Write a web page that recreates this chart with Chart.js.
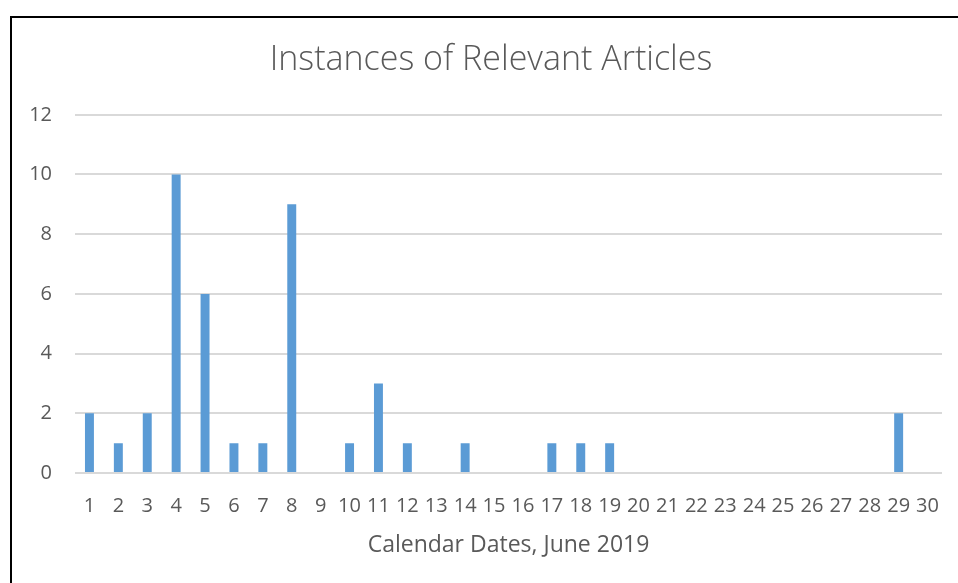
<!DOCTYPE html>
<html>
<head>
<meta charset="utf-8">
<script src="https://cdn.jsdelivr.net/npm/chart.js@4.4.1/dist/chart.umd.min.js"></script>
<style>
  html, body { margin: 0; padding: 0; background: #ffffff; overflow: hidden; }
  #wrap { position: relative; width: 958px; height: 583px; overflow: hidden; }
  #frame { position: absolute; left: 10px; top: 16px; width: 1000px; height: 700px;
           border-left: 2px solid #000; border-top: 2px solid #000; box-sizing: border-box; }
  canvas { position: absolute; left: 0; top: 0; }
</style>
</head>
<body>
<div id="wrap">
  <div id="frame"></div>
  <canvas id="c" width="970" height="583"></canvas>
</div>
<script>
const chartTitle = "Instances of Relevant Articles";
const xAxisTitle = "Calendar Dates, June 2019";
const dates = ["1","2","3","4","5","6","7","8","9","10","11","12","13","14","15","16","17","18","19","20","21","22","23","24","25","26","27","28","29","30"];
const articleCounts = [2,1,2,10,6,1,1,9,0,1,3,1,0,1,0,0,1,1,1,0,0,0,0,0,0,0,0,0,2,0];
const yTicks = [0,2,4,6,8,10,12];

const textColor = "#595959";
const fontFamily = "'Open Sans', 'Liberation Sans', sans-serif";

new Chart(document.getElementById("c"), {
  type: "bar",
  data: {
    labels: dates,
    datasets: [{
      data: articleCounts,
      backgroundColor: "#5B9BD5",
      borderWidth: 0,
      categoryPercentage: 1.0,
      barPercentage: 0.31
    }]
  },
  options: {
    responsive: false,
    animation: false,
    layout: { padding: { left: 12, right: 0, top: 0, bottom: 0 } },
    plugins: {
      legend: { display: false },
      tooltip: { enabled: false },
      title: {
        display: true,
        text: chartTitle,
        color: textColor,
        font: { family: fontFamily, size: 34, weight: 300 },
        padding: { top: 40, bottom: 34 }
      }
    },
    scales: {
      x: {
        grid: { display: false, drawTicks: false },
        border: { display: false },
        ticks: { color: textColor, font: { family: fontFamily, size: 20 }, padding: 21, maxRotation: 0, autoSkip: false },
        title: { display: true, text: xAxisTitle, color: textColor, font: { family: fontFamily, size: 23 }, padding: { top: 0, bottom: 24 } },
        afterFit: (s) => { s.height = 110; }
      },
      y: {
        min: 0, max: 12,
        afterBuildTicks: (s) => { s.ticks = yTicks.map(v => ({ value: v })); },
        grid: { color: "#D9D9D9", lineWidth: 2, drawTicks: false },
        border: { display: false },
        ticks: { color: textColor, font: { family: fontFamily, size: 20 }, padding: 23 },
        afterFit: (s) => { s.width = 63; }
      },
      yRightSpace: {
        position: "right",
        min: 0, max: 12,
        grid: { display: false, drawTicks: false },
        border: { display: false },
        ticks: { display: false },
        afterFit: (s) => { s.width = 28; }
      }
    }
  }
});
</script>
</body>
</html>
